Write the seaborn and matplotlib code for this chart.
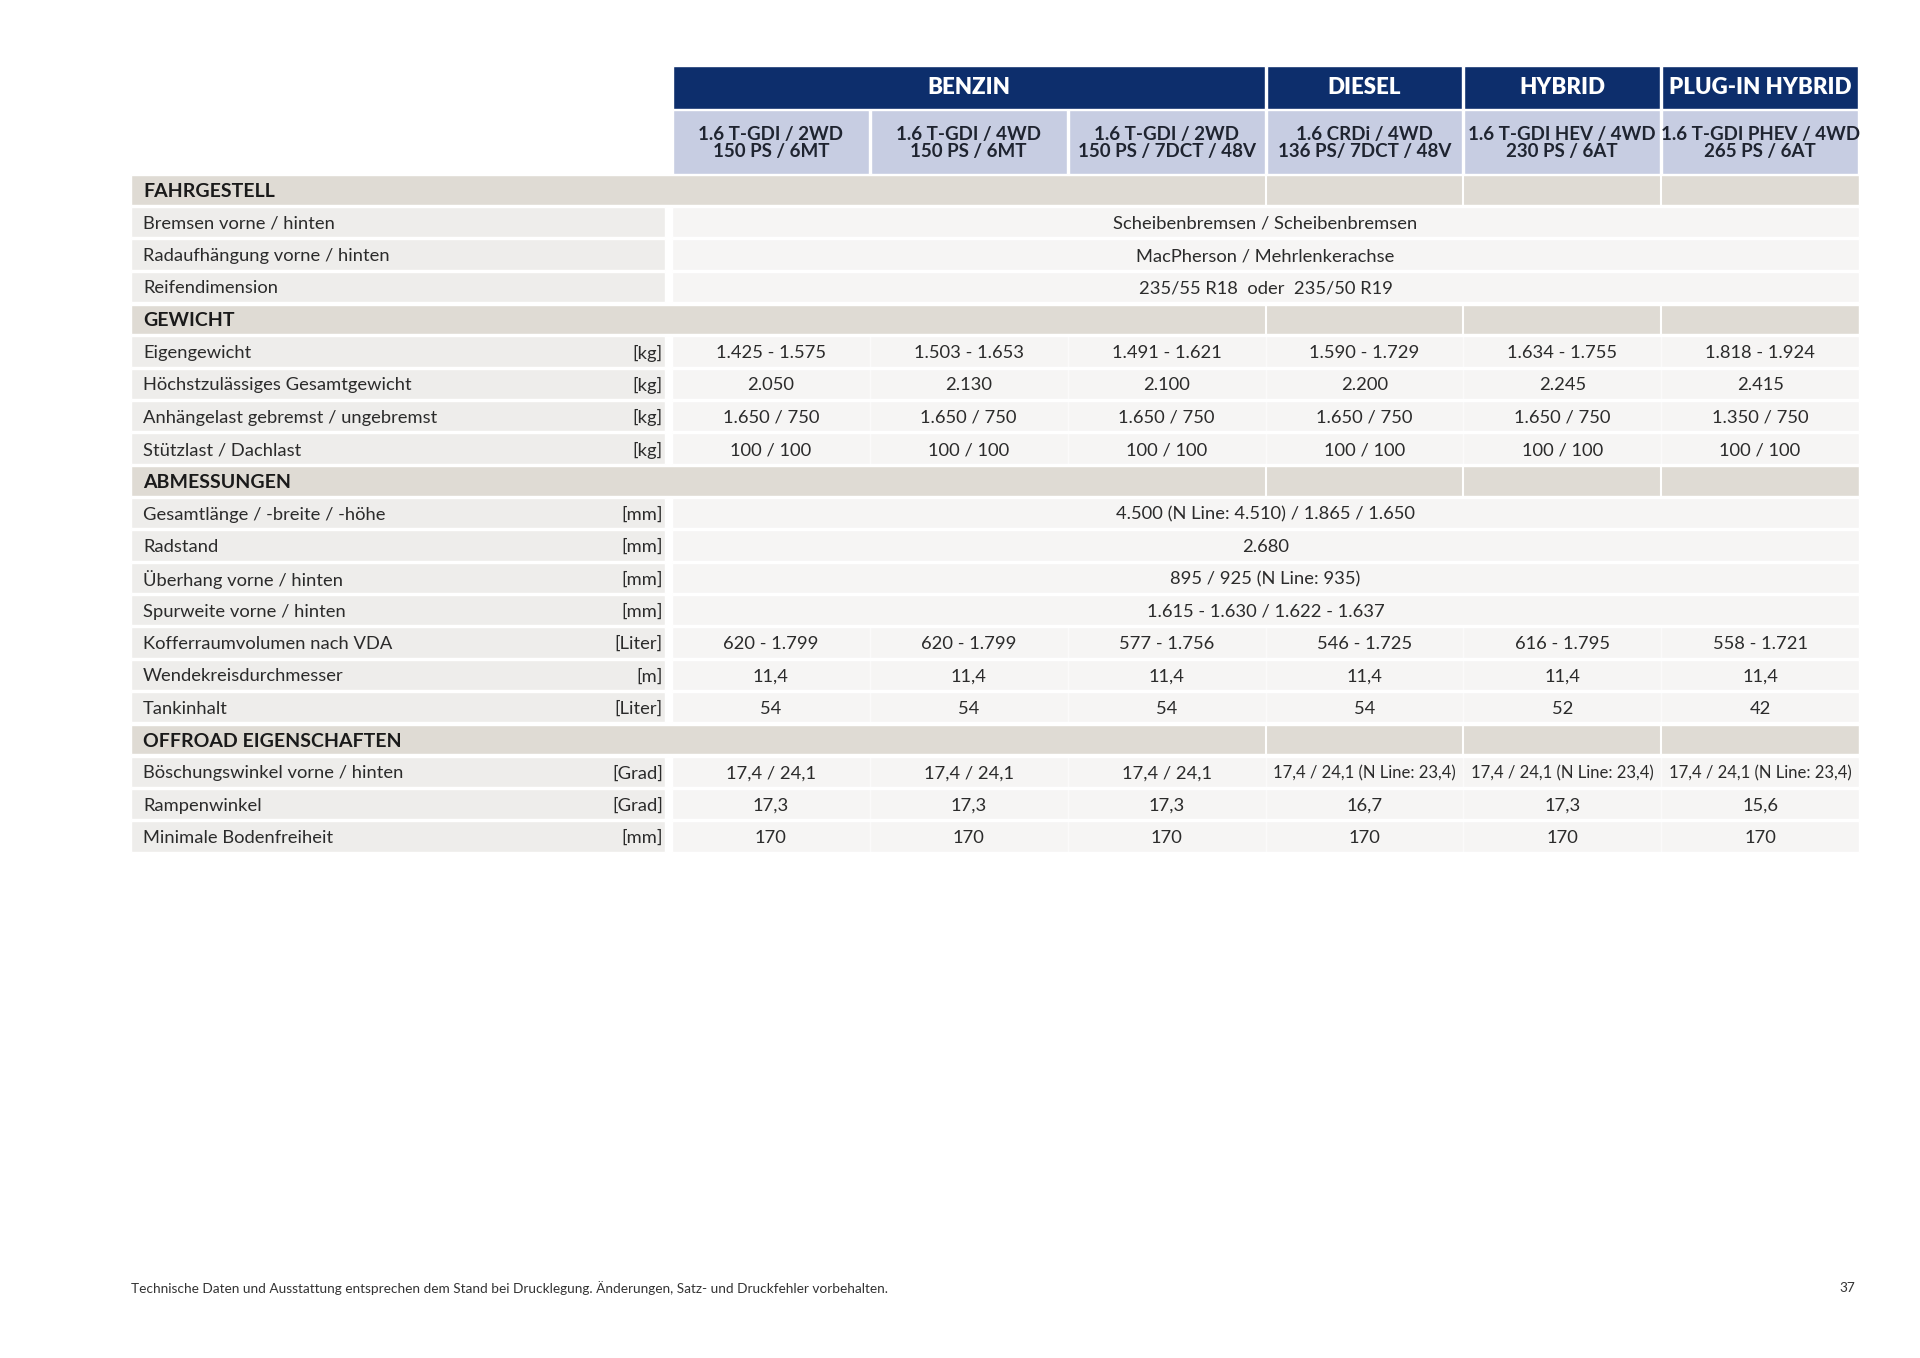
import matplotlib
matplotlib.use("Agg")
import matplotlib.pyplot as plt
import seaborn as sns

# --- table content -------------------------------------------------------
groups = ["BENZIN", "DIESEL", "HYBRID", "PLUG-IN HYBRID"]
group_spans = [3, 1, 1, 1]
engines = [
    "1.6 T-GDI / 2WD\n150 PS / 6MT",
    "1.6 T-GDI / 4WD\n150 PS / 6MT",
    "1.6 T-GDI / 2WD\n150 PS / 7DCT / 48V",
    "1.6 CRDi / 4WD\n136 PS/ 7DCT / 48V",
    "1.6 T-GDI HEV / 4WD\n230 PS / 6AT",
    "1.6 T-GDI PHEV / 4WD\n265 PS / 6AT",
]

sections = ["FAHRGESTELL", "GEWICHT", "ABMESSUNGEN", "OFFROAD EIGENSCHAFTEN"]

fahrgestell_labels = ["Bremsen vorne / hinten", "Radaufhängung vorne / hinten", "Reifendimension"]
fahrgestell_units = ["", "", ""]
fahrgestell_values = [
    "Scheibenbremsen / Scheibenbremsen",
    "MacPherson / Mehrlenkerachse",
    "235/55 R18  oder  235/50 R19",
]

gewicht_labels = ["Eigengewicht", "Höchstzulässiges Gesamtgewicht",
                  "Anhängelast gebremst / ungebremst", "Stützlast / Dachlast"]
gewicht_units = ["[kg]", "[kg]", "[kg]", "[kg]"]
gewicht_values = [
    ["1.425 - 1.575", "1.503 - 1.653", "1.491 - 1.621", "1.590 - 1.729", "1.634 - 1.755", "1.818 - 1.924"],
    ["2.050", "2.130", "2.100", "2.200", "2.245", "2.415"],
    ["1.650 / 750", "1.650 / 750", "1.650 / 750", "1.650 / 750", "1.650 / 750", "1.350 / 750"],
    ["100 / 100"] * 6,
]

abmessungen_labels = ["Gesamtlänge / -breite / -höhe", "Radstand", "Überhang vorne / hinten",
                      "Spurweite vorne / hinten", "Kofferraumvolumen nach VDA",
                      "Wendekreisdurchmesser", "Tankinhalt"]
abmessungen_units = ["[mm]", "[mm]", "[mm]", "[mm]", "[Liter]", "[m]", "[Liter]"]
abmessungen_values = [
    "4.500 (N Line: 4.510) / 1.865 / 1.650",
    "2.680",
    "895 / 925 (N Line: 935)",
    "1.615 - 1.630 / 1.622 - 1.637",
    ["620 - 1.799", "620 - 1.799", "577 - 1.756", "546 - 1.725", "616 - 1.795", "558 - 1.721"],
    ["11,4"] * 6,
    ["54", "54", "54", "54", "52", "42"],
]

offroad_labels = ["Böschungswinkel vorne / hinten", "Rampenwinkel", "Minimale Bodenfreiheit"]
offroad_units = ["[Grad]", "[Grad]", "[mm]"]
offroad_values = [
    ["17,4 / 24,1", "17,4 / 24,1", "17,4 / 24,1", "17,4 / 24,1 (N Line: 23,4)",
     "17,4 / 24,1 (N Line: 23,4)", "17,4 / 24,1 (N Line: 23,4)"],
    ["17,3", "17,3", "17,3", "16,7", "17,3", "15,6"],
    ["170"] * 6,
]

footer = "Technische Daten und Ausstattung entsprechen dem Stand bei Drucklegung. Änderungen, Satz- und Druckfehler vorbehalten."
page_no = "37"

# --- style ---------------------------------------------------------------
sns.set_theme(style="white")
plt.rcParams["font.family"] = ["Lato", "DejaVu Sans"]

NAVY = "#0d2e6c"
LAVENDER = "#c7cde2"
BEIGE = "#dfdbd4"
LABEL_BG = "#eeedeb"
CELL_BG = "#f6f5f4"
TEXT = "#2b2b2b"
FS = 13.2

fig = plt.figure(figsize=(19.2, 13.58), dpi=100)
ax = fig.add_axes([0, 0, 1, 1])
ax.set_xlim(0, 1920)
ax.set_ylim(1358, 0)
ax.axis("off")

left, label_right, data_left, right = 131, 665, 672, 1859
col_w = (right - data_left) / 6
col_x = [data_left + i * col_w for i in range(7)]
row_h = 32.33
first_row = 190
dy = 1.5  # small optical shift of the text

# header: fuel groups
start = 0
for name, span in zip(groups, group_spans):
    x0 = col_x[start]
    w = col_x[start + span] - x0
    ax.barh(87.5, w - 2, left=x0 + 1, height=43, color=NAVY, align="center")
    ax.text(x0 + w / 2, 88, name, color="white", fontsize=16, fontweight="heavy",
            ha="center", va="center")
    start += span

# header: engine variants
for i, eng in enumerate(engines):
    ax.barh(142, col_w - 2, left=col_x[i] + 1, height=64, color=LAVENDER, align="center")
    ax.text(col_x[i] + col_w / 2, 143, eng, color="#1f2430", fontsize=13.5,
            fontweight="bold", ha="center", va="center", linespacing=0.95)

group_edges = [col_x[3], col_x[4], col_x[5]]

row = 0
blocks = [
    (fahrgestell_labels, fahrgestell_units, fahrgestell_values),
    (gewicht_labels, gewicht_units, gewicht_values),
    (abmessungen_labels, abmessungen_units, abmessungen_values),
    (offroad_labels, offroad_units, offroad_values),
]
for sec, (labels, units, values) in zip(sections, blocks):
    y = first_row + row * row_h
    ax.barh(y, right - left, left=left, height=row_h - 3, color=BEIGE, align="center")
    for gx in group_edges:
        ax.plot([gx, gx], [y - row_h / 2 + 1.5, y + row_h / 2 - 1.5], color="white", lw=1.5)
    ax.text(left + 12, y + dy, sec, color="#1a1a1a", fontsize=14, fontweight="bold",
            ha="left", va="center")
    row += 1
    for lab, unit, val in zip(labels, units, values):
        y = first_row + row * row_h
        ax.barh(y, label_right - left, left=left, height=row_h - 2, color=LABEL_BG, align="center")
        ax.barh(y, right - data_left, left=data_left, height=row_h - 2, color=CELL_BG, align="center")
        ax.text(left + 12, y + dy, lab, color=TEXT, fontsize=FS, ha="left", va="center")
        if unit:
            ax.text(label_right - 2, y + dy, unit, color=TEXT, fontsize=FS, ha="right", va="center")
        if isinstance(val, str):
            ax.text((data_left + right) / 2, y + dy, val, color=TEXT, fontsize=FS,
                    ha="center", va="center")
        else:
            for i, v in enumerate(val):
                if i > 0:
                    ax.plot([col_x[i], col_x[i]], [y - row_h / 2 + 1, y + row_h / 2 - 1],
                            color="white", lw=1, alpha=0.6)
                size = FS if len(v) < 20 else 12.0
                ax.text(col_x[i] + col_w / 2, y + dy, v, color=TEXT, fontsize=size,
                        ha="center", va="center")
        row += 1

ax.text(left, 1288, footer, color="#333333", fontsize=9.8, ha="left", va="center")
ax.text(right - 4, 1288, page_no, color="#333333", fontsize=9.8, ha="right", va="center")

fig.savefig("out.png", dpi=100, facecolor="white")
